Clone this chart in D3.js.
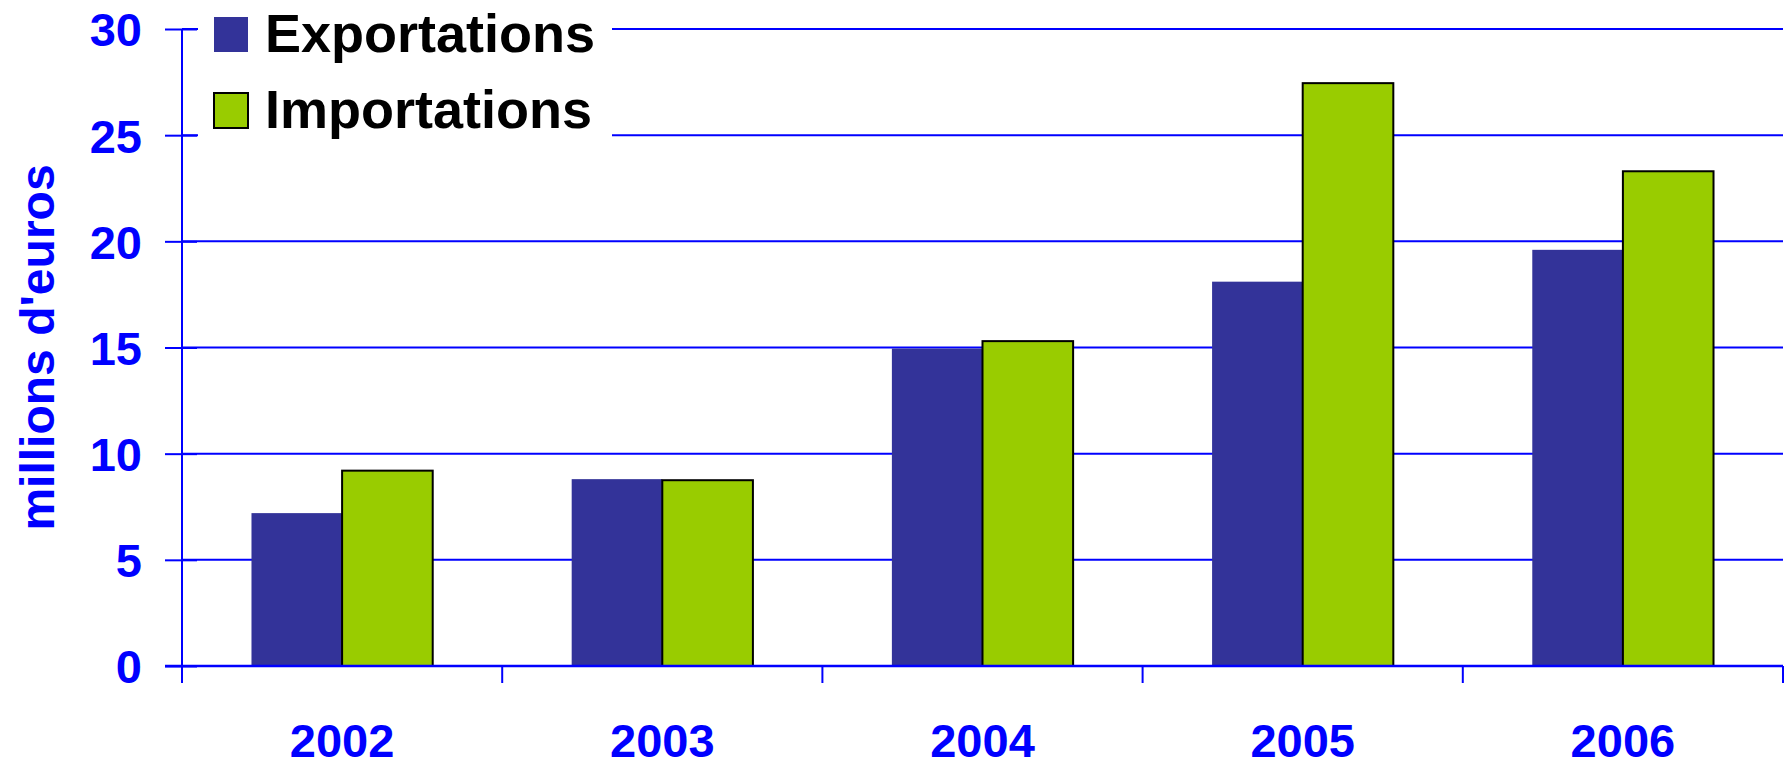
<!DOCTYPE html>
<html>
<head>
<meta charset="utf-8">
<script src="https://cdn.jsdelivr.net/npm/d3@7"></script>
<style>
  html, body { margin: 0; padding: 0; background: #ffffff; }
  svg { display: block; }
  text { font-family: "Liberation Sans", Arial, sans-serif; font-weight: bold; }
</style>
</head>
<body>
<svg id="chart" width="1787" height="762"></svg>
<script>
const years = ["2002", "2003", "2004", "2005", "2006"];
const seriesNames = ["Exportations", "Importations"];
const exportations = [7.2, 8.8, 14.95, 18.1, 19.6];
const importations = [9.2, 8.75, 15.3, 27.45, 23.3];
const yTicks = [0, 5, 10, 15, 20, 25, 30];
const yTitle = "millions d'euros";

const W = 1787, H = 762;
const margin = { left: 182, right: 4, top: 29, bottom: 96 };
const blue = "#0000FF";
const colors = { "Exportations": "#333399", "Importations": "#99CC00" };

const svg = d3.select("#chart");

const x0 = d3.scaleBand().domain(years).range([margin.left, W - margin.right]).padding(0);
const bw = x0.bandwidth();
const groupPad = bw * 0.217;
const x1 = d3.scaleBand().domain(seriesNames).range([groupPad, bw - groupPad]).padding(0);
const y = d3.scaleLinear().domain([0, 30]).range([H - margin.bottom, margin.top]);

// gridlines
svg.append("g")
  .selectAll("line")
  .data(yTicks.filter(d => d > 0))
  .join("line")
  .attr("x1", margin.left)
  .attr("x2", W - margin.right)
  .attr("y1", d => y(d))
  .attr("y2", d => y(d))
  .attr("stroke", blue)
  .attr("stroke-width", 2);

// bars
const data = years.map((yr, i) => ({ year: yr, values: [
  { key: "Exportations", value: exportations[i] },
  { key: "Importations", value: importations[i] }
]}));

const groups = svg.append("g")
  .selectAll("g")
  .data(data)
  .join("g")
  .attr("transform", d => `translate(${x0(d.year)},0)`);

groups.selectAll("rect")
  .data(d => d.values)
  .join("rect")
  .attr("x", d => x1(d.key))
  .attr("y", d => y(d.value))
  .attr("width", x1.bandwidth())
  .attr("height", d => y(0) - y(d.value))
  .attr("fill", d => colors[d.key])
  .attr("stroke", d => d.key === "Importations" ? "#000000" : "none")
  .attr("stroke-width", 2);

// Y axis
const yAxis = d3.axisLeft(y).tickValues(yTicks).tickSize(0).tickPadding(40).tickFormat(d3.format("d"));
const ya = svg.append("g").attr("transform", `translate(${margin.left},0)`).call(yAxis);
ya.select(".domain").remove();
ya.selectAll("text")
  .attr("fill", blue)
  .style("font-size", "47px")
  .attr("dy", "0.36em");
// cross ticks
ya.selectAll(".tick").append("line")
  .attr("x1", -17).attr("x2", 15)
  .attr("stroke", blue).attr("stroke-width", 2);
svg.append("line")
  .attr("x1", margin.left).attr("x2", margin.left)
  .attr("y1", y(30)).attr("y2", y(0) + 17)
  .attr("stroke", blue).attr("stroke-width", 2);

// X axis
svg.append("line")
  .attr("x1", margin.left - 17).attr("x2", W - margin.right)
  .attr("y1", y(0)).attr("y2", y(0))
  .attr("stroke", blue).attr("stroke-width", 2.5);
const xa = svg.append("g");
xa.selectAll("line.sep")
  .data(years.map(yr => x0(yr) + bw).concat([margin.left]))
  .join("line")
  .attr("class", "sep")
  .attr("x1", d => d).attr("x2", d => d)
  .attr("y1", y(0)).attr("y2", y(0) + 17)
  .attr("stroke", blue).attr("stroke-width", 2);
xa.selectAll("text")
  .data(years)
  .join("text")
  .attr("x", d => x0(d) + bw / 2)
  .attr("y", 757)
  .attr("text-anchor", "middle")
  .attr("fill", blue)
  .style("font-size", "47px")
  .text(d => d);

// Y title
svg.append("text")
  .attr("transform", `translate(54, ${(y(0) + y(30)) / 2}) rotate(-90)`)
  .attr("text-anchor", "middle")
  .attr("fill", blue)
  .style("font-size", "48px")
  .text(yTitle);

// Legend
const lg = svg.append("g");
lg.append("rect").attr("x", 198).attr("y", 0).attr("width", 414).attr("height", 145).attr("fill", "#ffffff");
const items = lg.selectAll("g.item")
  .data(seriesNames)
  .join("g")
  .attr("class", "item")
  .attr("transform", (d, i) => `translate(0, ${i * 76})`);
items.append("rect")
  .attr("x", 214).attr("y", 17).attr("width", 34).attr("height", 35)
  .attr("fill", d => colors[d])
  .attr("stroke", d => d === "Importations" ? "#000000" : "none")
  .attr("stroke-width", 2);
items.append("text")
  .attr("x", 265).attr("y", 52)
  .attr("fill", "#000000")
  .style("font-size", "54px")
  .text(d => d);
</script>
</body>
</html>
